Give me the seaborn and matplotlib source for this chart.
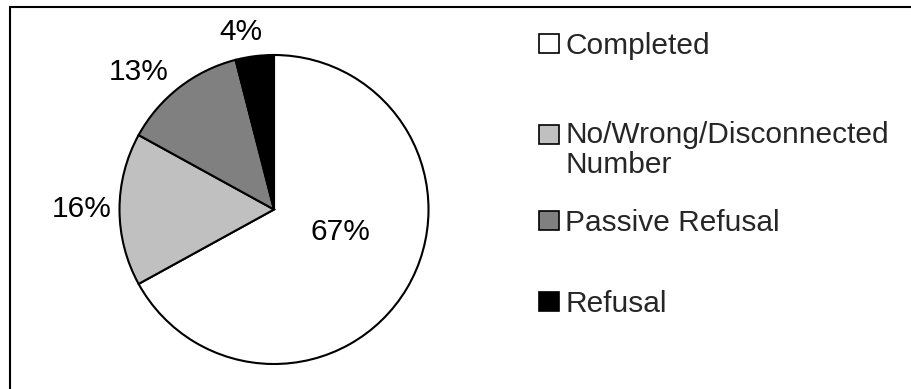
import matplotlib
matplotlib.use("Agg")
import matplotlib.pyplot as plt
import matplotlib.patches as mpatches
from matplotlib.legend_handler import HandlerPatch
import seaborn as sns

# Survey call outcome shares (%)
categories = ["Completed", "No/Wrong/Disconnected\nNumber", "Passive Refusal", "Refusal"]
shares = [67, 16, 13, 4]
colors = ["#FFFFFF", "#C0C0C0", "#808080", "#000000"]

sns.set_theme(style="white")
plt.rcParams["font.family"] = ["Liberation Sans", "DejaVu Sans"]

W, H = 912, 389
FS = 21.5
fig = plt.figure(figsize=(W / 100, H / 100), dpi=100)
fig.patch.set_facecolor("white")

# pie centre (274, 209.5) px, radius 154.5 px; axes spans +-1.3 radii
R = 154.5
half = 1.3 * R
cx, cy = 274, 209.5
ax = fig.add_axes([(cx - half) / W, (H - cy - half) / H, 2 * half / W, 2 * half / H])

wedges, texts, autotexts = ax.pie(
    shares,
    colors=colors,
    startangle=90,
    counterclock=False,
    autopct=lambda p: f"{p:.0f}%",
    pctdistance=1.23,
    wedgeprops=dict(edgecolor="black", linewidth=1.5),
    textprops=dict(fontsize=FS, color="black"),
)
ax.set_xlim(-1.3, 1.3)
ax.set_ylim(-1.3, 1.3)
ax.set_aspect("equal")
ax.axis("off")

# label placement as in the original (big slice labelled inside)
label_pos = [(0.427, -0.146), (-1.243, 0.003), (-0.874, 0.890), (-0.214, 1.152)]
for t, p in zip(autotexts, label_pos):
    t.set_position(p)


# handle sits on the first line of a two-line label
def top_aligned(shift):
    def make(legend, orig_handle, xdescent, ydescent, width, height, fontsize):
        return mpatches.Rectangle((-xdescent, -ydescent + shift), width, height)
    return make


# one legend per entry so the uneven spacing matches
legend_y = [46, 150, 223, 304]
for cat, col, y in zip(categories, colors, legend_y):
    handle = mpatches.Patch(facecolor=col, edgecolor="black", linewidth=1.2)
    shift = 11.5 if "\n" in cat else 0.0
    leg = fig.legend(
        handles=[handle], labels=[cat],
        loc="center left", bbox_to_anchor=(539 / W, 1 - y / H),
        frameon=False, fontsize=FS,
        handlelength=0.66, handleheight=0.62, handletextpad=0.22,
        borderpad=0, borderaxespad=0,
        handler_map={mpatches.Patch: HandlerPatch(patch_func=top_aligned(shift))},
    )
    for t in leg.get_texts():
        t.set_linespacing(1.05)

# outer frame (right and bottom edges fall outside the image)
frame = mpatches.Rectangle((10.5 / W, -0.1), 1.0, 1.1 - 6.5 / H,
                           transform=fig.transFigure, fill=False,
                           edgecolor="black", linewidth=1.5)
fig.add_artist(frame)

fig.savefig("out.png", dpi=100, facecolor="white")
